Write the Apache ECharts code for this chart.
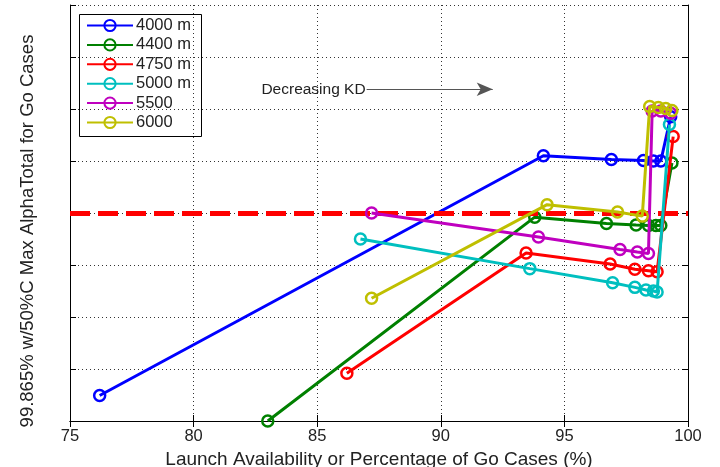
<!DOCTYPE html>
<html>
<head>
<meta charset="utf-8">
<script src="https://cdn.jsdelivr.net/npm/echarts@6/dist/echarts.min.js"></script>
<style>
html,body{margin:0;padding:0;background:#fff;}
#chart{width:720px;height:467px;}
</style>
</head>
<body>
<div id="chart"></div>
<script>
// ---- data ----
const seriesNames = ['4000 m', '4400 m', '4750 m', '5000 m', '5500', '6000'];
const seriesColors = ['#0000ff', '#008000', '#ff0000', '#00bfbf', '#bf00bf', '#bfbf00'];
const s4000 = [[76.2,0.49],[94.15,5.10],[96.9,5.03],[98.2,5.01],[98.6,5.00],[98.9,5.00],[99.3,5.85]];
const s4400 = [[83.0,0.0],[93.8,3.92],[96.7,3.80],[97.9,3.77],[98.4,3.76],[98.7,3.76],[98.9,3.76],[99.35,4.96]];
const s4750 = [[86.2,0.92],[93.45,3.23],[96.85,3.02],[97.85,2.92],[98.4,2.89],[98.75,2.87],[99.4,5.47]];
const s5000 = [[86.75,3.50],[93.6,2.93],[96.95,2.66],[97.85,2.57],[98.3,2.52],[98.6,2.50],[98.75,2.48],[99.25,5.70]];
const s5500 = [[87.2,4.0],[93.95,3.54],[97.25,3.30],[97.95,3.25],[98.4,3.22],[98.55,5.96],[98.9,5.96],[99.3,5.92]];
const s6000 = [[87.2,2.36],[94.3,4.16],[97.15,4.02],[98.15,3.94],[98.45,6.05],[98.8,6.03],[99.1,6.01],[99.35,5.97]];
const seriesData = [s4000, s4400, s4750, s5000, s5500, s6000];
const thresholdY = 4;
const arrowStart = [87.0, 6.38];
const arrowEnd = [92.1, 6.38];
const xTicks = [75, 80, 85, 90, 95, 100];

const FONT = '"Liberation Sans", Arial, Helvetica, sans-serif';
const chart = echarts.init(document.getElementById('chart'));

const gridLine = {show: true, lineStyle: {color: '#333', width: 1, type: [1, 3]}};
const axisLineS = {show: true, lineStyle: {color: '#000', width: 1}};
const tickS = {show: true, inside: true, length: 6, lineStyle: {color: '#000', width: 1}};

const series = [{
  type: 'line', data: [], silent: true, z: 1,
  markLine: {
    silent: true, symbol: 'none', animation: false,
    lineStyle: {color: '#ff0000', width: 5, type: [20, 8]},
    label: {show: false},
    data: [{yAxis: thresholdY}]
  }
}, {
  type: 'line', data: [], silent: true, z: 1,
  markLine: {
    silent: true, symbol: ['none', 'arrow'], symbolSize: [10, 16], animation: false,
    lineStyle: {color: '#555', width: 1, type: 'solid'},
    label: {show: true, position: 'start', formatter: 'Decreasing KD', color: '#222', fontFamily: FONT, fontSize: 15.5, distance: 1},
    data: [[{coord: arrowStart}, {coord: arrowEnd}]]
  }
}];
seriesNames.forEach((n, i) => {
  series.push({
    name: n, type: 'line', data: seriesData[i], z: 3 + i,
    symbol: 'circle', symbolSize: 11,
    lineStyle: {color: seriesColors[i], width: 3},
    itemStyle: {color: 'rgba(255,255,255,0)', borderColor: seriesColors[i], borderWidth: 2.5},
    animation: false
  });
});

chart.setOption({
  backgroundColor: '#fff',
  animation: false,
  grid: {left: 70, top: 5, width: 618, height: 416, show: false, outerBoundsMode: 'none', containLabel: false},
  legend: {
    orient: 'vertical', left: 86, top: 17, padding: 0,
    itemWidth: 46, itemHeight: 14, itemGap: 2.4,
    textStyle: {fontFamily: FONT, fontSize: 16.5, color: '#222', padding: [0, 0, 0, -2]},
    data: seriesNames
  },
  graphic: [{
    type: 'rect', left: 77, top: 12, z: 100, silent: true,
    shape: {width: 122, height: 122},
    style: {fill: 'none', stroke: '#000', lineWidth: 1}
  }],
  xAxis: [{
    type: 'value', min: 75, max: 100, interval: 5,
    axisLine: axisLineS, axisTick: tickS, splitLine: gridLine,
    axisLabel: {color: '#222', fontFamily: FONT, fontSize: 16.5, margin: 7},
    name: 'Launch Availability or Percentage of Go Cases (%)',
    nameLocation: 'middle', nameGap: 23,
    nameTextStyle: {color: '#222', fontFamily: FONT, fontSize: 19}
  }, {
    type: 'value', min: 75, max: 100, interval: 5, position: 'top',
    axisLine: axisLineS, axisTick: tickS, splitLine: {show: false}, axisLabel: {show: false}
  }],
  yAxis: [{
    type: 'value', min: 0, max: 8, interval: 1,
    axisLine: axisLineS, axisTick: tickS, splitLine: gridLine,
    axisLabel: {show: false},
    name: '99.865% w/50%C Max AlphaTotal for Go Cases',
    nameLocation: 'middle', nameGap: 33,
    nameTextStyle: {color: '#222', fontFamily: FONT, fontSize: 18.5, padding: [0, 36, 0, 0]}
  }, {
    type: 'value', min: 0, max: 8, interval: 1, position: 'right',
    axisLine: axisLineS, axisTick: tickS, splitLine: {show: false}, axisLabel: {show: false}
  }],
  series: series
});
</script>
</body>
</html>
